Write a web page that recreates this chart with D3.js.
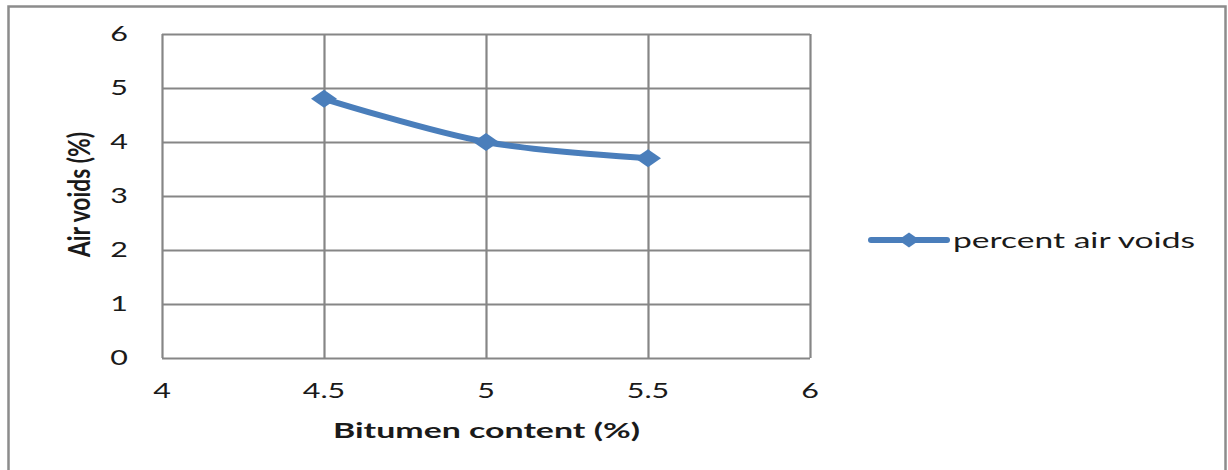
<!DOCTYPE html>
<html>
<head>
<meta charset="utf-8">
<script src="https://cdn.jsdelivr.net/npm/d3@7"></script>
<style>
  body { margin: 0; background: #fff; }
  svg text { font-family: Lato, "Open Sans", sans-serif; fill: #1a1a1a; }
  .grid line { stroke: #868686; stroke-width: 2.2; }
  .grid .domain { display: none; }
  .tick-label { font-size: 21px; }
  .axis-title { font-size: 21px; font-weight: bold; }
</style>
</head>
<body>
<div id="chart"></div>
<script>
// data
const bitumen = [4.5, 5, 5.5];
const airVoids = [4.8, 4.0, 3.7];
const xTicks = [4, 4.5, 5, 5.5, 6];
const yTicks = [0, 1, 2, 3, 4, 5, 6];
const seriesName = 'percent air voids';

const W = 1228, H = 470;
const plot = { left: 162, top: 34, right: 810, bottom: 358 };
const color = '#4a7ebb';
const stretch = 1.45; // the original picture is widened, text looks stretched

const svg = d3.select('#chart').append('svg').attr('width', W).attr('height', H);

// outer chart frame
svg.append('rect')
  .attr('x', 8.5).attr('y', 6.5)
  .attr('width', 1217).attr('height', 480)
  .attr('fill', 'none').attr('stroke', '#8c8c8c').attr('stroke-width', 2.5);

const x = d3.scaleLinear().domain([4, 6]).range([plot.left, plot.right]);
const y = d3.scaleLinear().domain([0, 6]).range([plot.bottom, plot.top]);

// gridlines
svg.append('g').attr('class', 'grid')
  .attr('transform', `translate(0,${plot.bottom})`)
  .call(d3.axisBottom(x).tickValues(xTicks).tickSize(-(plot.bottom - plot.top)).tickFormat(''));
svg.append('g').attr('class', 'grid')
  .attr('transform', `translate(${plot.left},0)`)
  .call(d3.axisLeft(y).tickValues(yTicks).tickSize(-(plot.right - plot.left)).tickFormat(''));

// tick labels
svg.append('g').selectAll('text').data(xTicks).join('text')
  .attr('class', 'tick-label')
  .attr('transform', (d) => `translate(${x(d)},398) scale(${stretch},1)`)
  .attr('text-anchor', 'middle')
  .text((d) => d);
svg.append('g').selectAll('text').data(yTicks).join('text')
  .attr('class', 'tick-label')
  .attr('transform', (d) => `translate(128,${y(d) + 7}) scale(${stretch},1)`)
  .attr('text-anchor', 'end')
  .text((d) => d);

// axis titles
svg.append('text').attr('class', 'axis-title')
  .attr('x', 333).attr('y', 438)
  .attr('textLength', 307).attr('lengthAdjust', 'spacingAndGlyphs')
  .text('Bitumen content (%)');
svg.append('text').attr('class', 'axis-title')
  .attr('transform', `translate(90,257) scale(${stretch},1) rotate(-90)`)
  .attr('textLength', 125).attr('lengthAdjust', 'spacingAndGlyphs')
  .text('Air voids (%)');

// series
const points = bitumen.map((b, i) => ({ x: b, y: airVoids[i] }));
const line = d3.line()
  .x((d) => x(d.x))
  .y((d) => y(d.y))
  .curve(d3.curveCatmullRom.alpha(0.5));

svg.append('path').datum(points)
  .attr('fill', 'none').attr('stroke', color)
  .attr('stroke-width', 6).attr('stroke-linecap', 'round')
  .attr('d', line);

const marker = d3.symbol().type(d3.symbolSquare).size(160);
svg.append('g').selectAll('path').data(points).join('path')
  .attr('transform', (d) => `translate(${x(d.x)},${y(d.y)}) scale(${stretch},1) rotate(45)`)
  .attr('d', marker)
  .attr('fill', color);

// legend
const lg = svg.append('g').attr('transform', 'translate(871,240)');
lg.append('line').attr('x1', 0).attr('x2', 76).attr('y1', 0).attr('y2', 0)
  .attr('stroke', color).attr('stroke-width', 6).attr('stroke-linecap', 'round');
lg.append('path').attr('transform', `translate(38,0) scale(${stretch},1) rotate(45)`)
  .attr('d', d3.symbol().type(d3.symbolSquare).size(110))
  .attr('fill', color);
lg.append('text').attr('class', 'tick-label')
  .attr('x', 82).attr('y', 8)
  .attr('textLength', 242).attr('lengthAdjust', 'spacingAndGlyphs')
  .text(seriesName);
</script>
</body>
</html>
